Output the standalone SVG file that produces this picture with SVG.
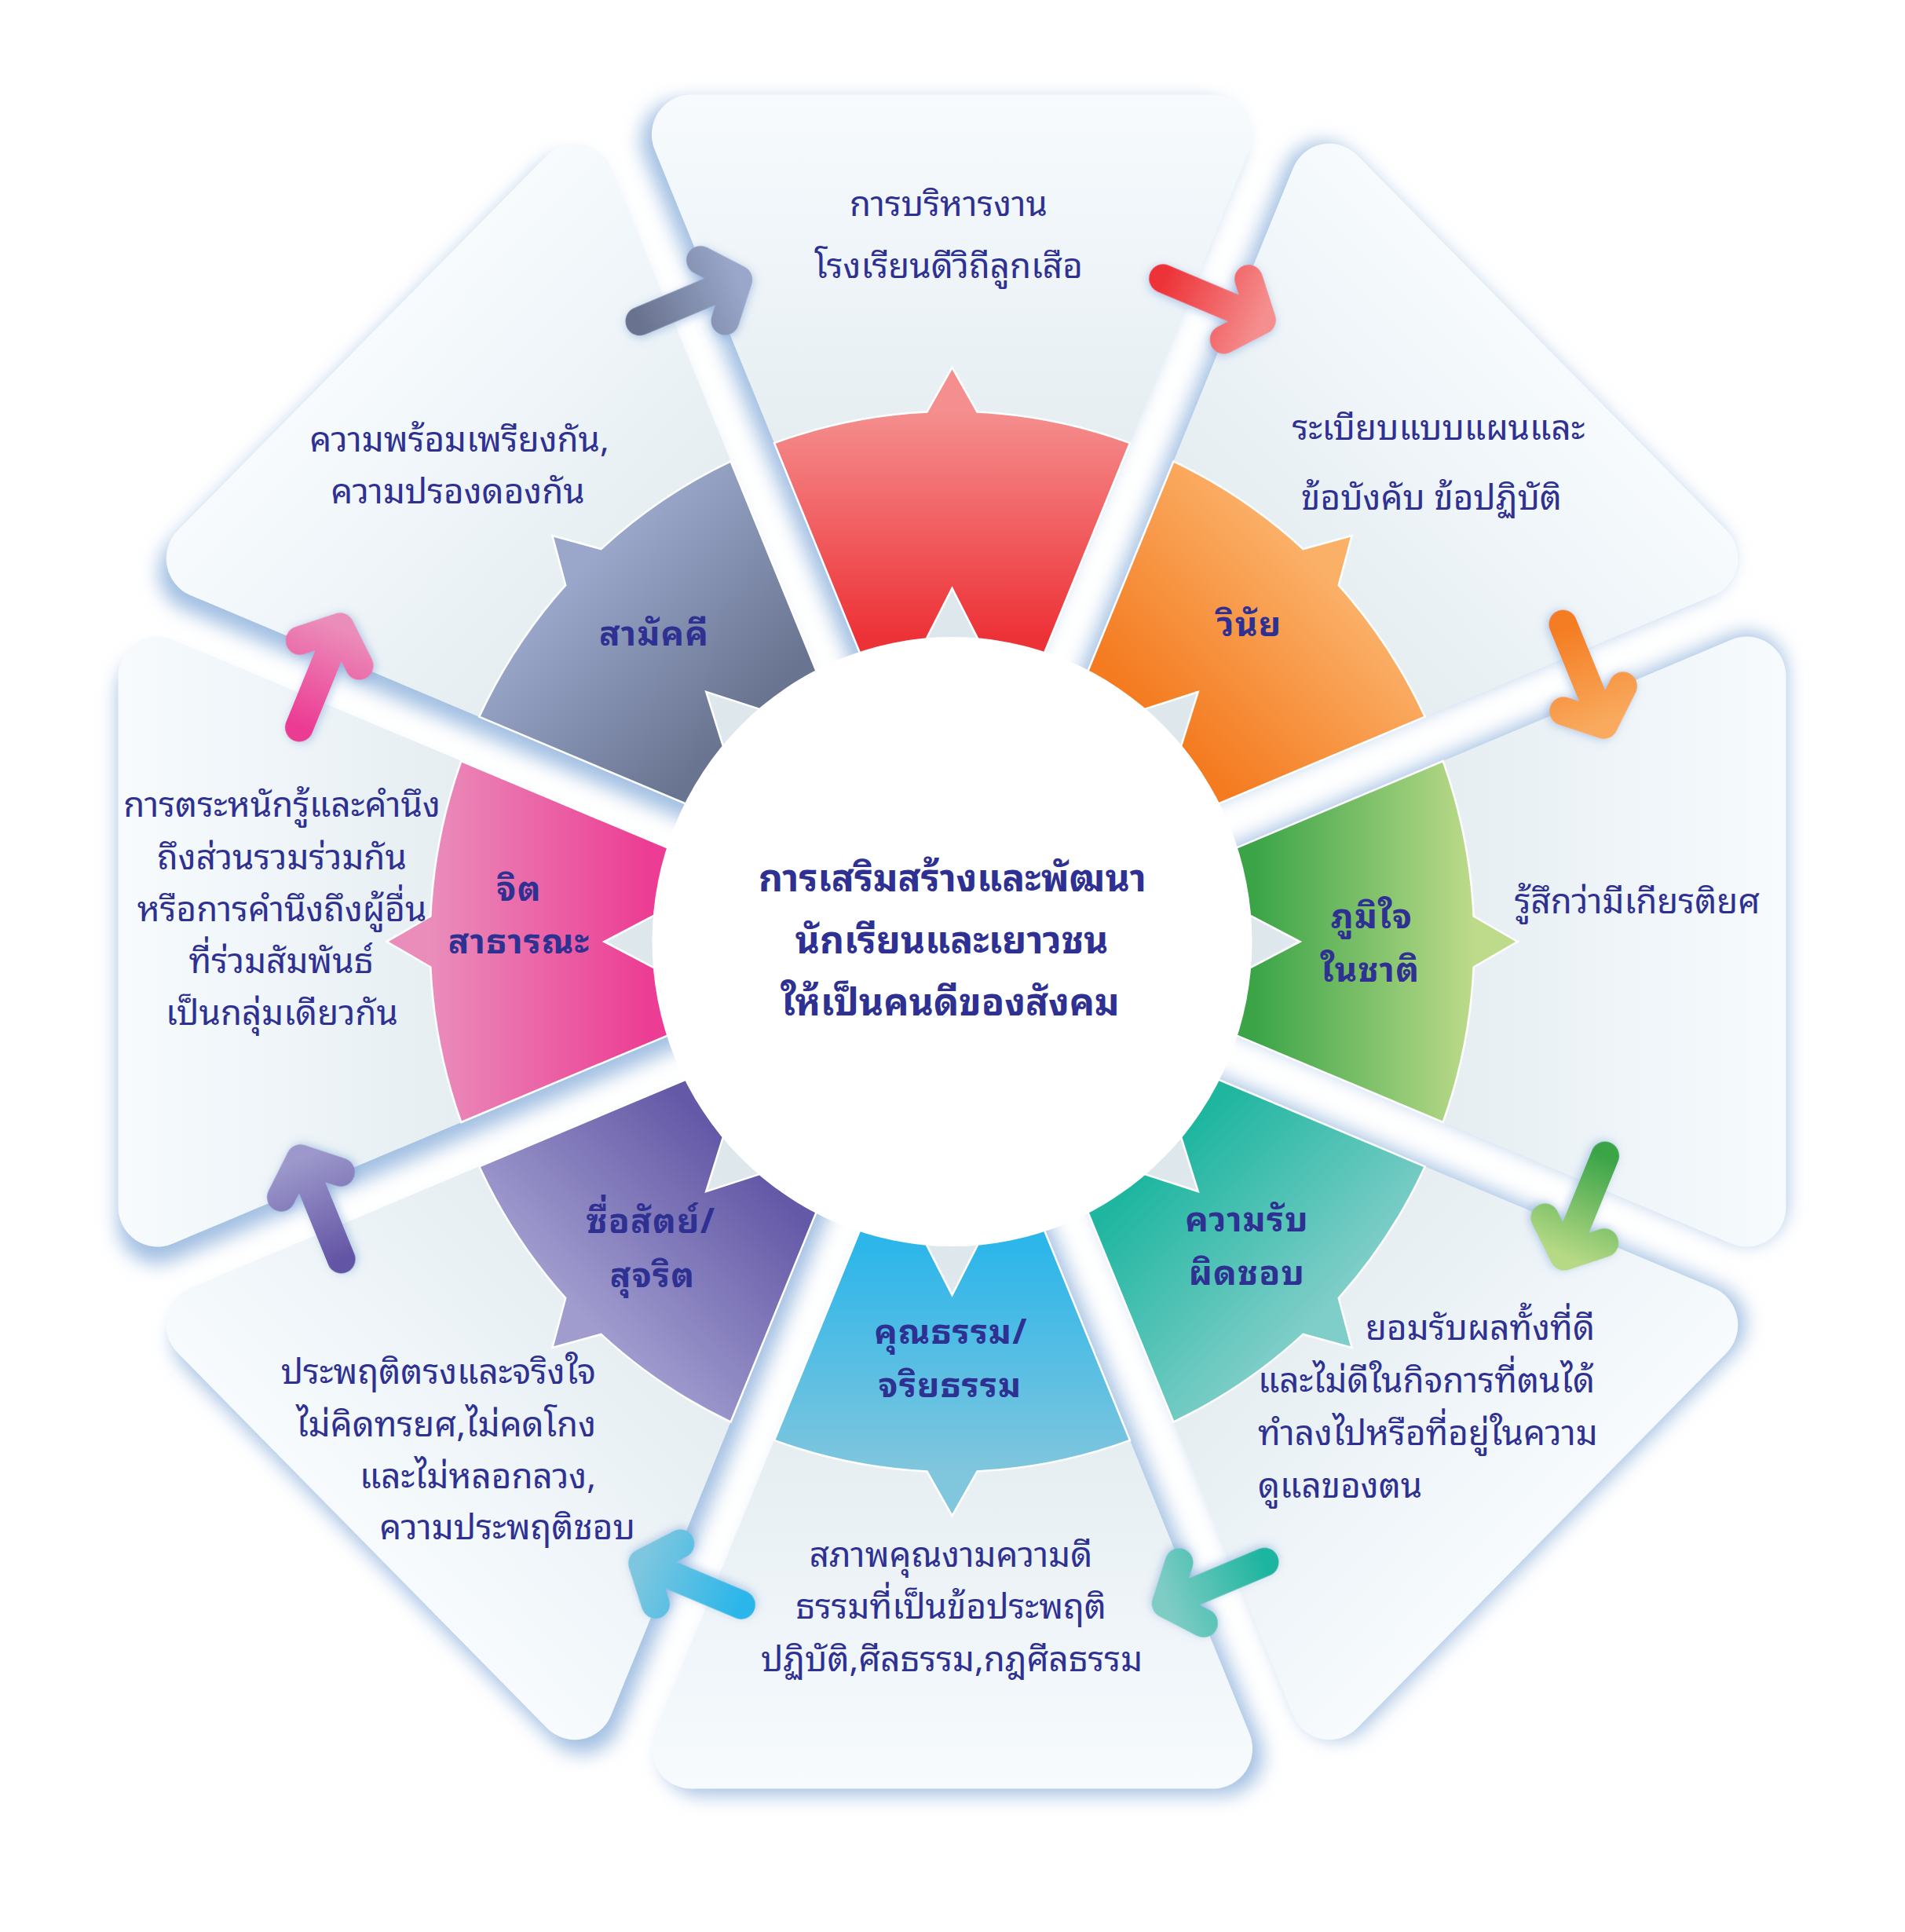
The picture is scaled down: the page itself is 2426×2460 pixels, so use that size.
<svg xmlns="http://www.w3.org/2000/svg" xmlns:xlink="http://www.w3.org/1999/xlink" width="2426" height="2460" viewBox="0 0 2426 2460">
<defs>
<style>
.t{font-family:"Noto Sans Thai Looped","Noto Sans Thai","Noto Sans","DejaVu Sans",sans-serif;fill:#2e3192;}
.d{font-size:44px;font-weight:400;text-anchor:middle;}
.l{font-size:44px;font-weight:700;text-anchor:middle;letter-spacing:1.2px;}
.c{font-size:48px;font-weight:700;text-anchor:middle;}
.arr{fill:none;stroke-width:36;stroke-linecap:round;stroke-linejoin:round;filter:url(#arrowShadow);}
.seg{stroke:#ffffff;stroke-width:2.5;}
</style>
<linearGradient id="panelGrad" gradientUnits="userSpaceOnUse" x1="0" y1="-1062" x2="0" y2="-400">
<stop offset="0" stop-color="#f7fbfe"/><stop offset="1" stop-color="#dde7ec"/>
</linearGradient>
<linearGradient id="gRed" gradientUnits="userSpaceOnUse" x1="0" y1="-382" x2="0" y2="-665"><stop offset="0" stop-color="#ed3237"/><stop offset="1" stop-color="#f58e8e"/></linearGradient>
<linearGradient id="gOrange" gradientUnits="userSpaceOnUse" x1="0" y1="-382" x2="0" y2="-665"><stop offset="0" stop-color="#f47b20"/><stop offset="1" stop-color="#fbb068"/></linearGradient>
<linearGradient id="gGreen" gradientUnits="userSpaceOnUse" x1="0" y1="-382" x2="0" y2="-665"><stop offset="0" stop-color="#3aa447"/><stop offset="1" stop-color="#bddb8a"/></linearGradient>
<linearGradient id="gTeal" gradientUnits="userSpaceOnUse" x1="0" y1="-382" x2="0" y2="-665"><stop offset="0" stop-color="#1fb6a0"/><stop offset="1" stop-color="#80cec9"/></linearGradient>
<linearGradient id="gBlue" gradientUnits="userSpaceOnUse" x1="0" y1="-382" x2="0" y2="-665"><stop offset="0" stop-color="#2db6ea"/><stop offset="1" stop-color="#80c6dd"/></linearGradient>
<linearGradient id="gPurple" gradientUnits="userSpaceOnUse" x1="0" y1="-382" x2="0" y2="-665"><stop offset="0" stop-color="#6459a7"/><stop offset="1" stop-color="#a09cce"/></linearGradient>
<linearGradient id="gPink" gradientUnits="userSpaceOnUse" x1="0" y1="-382" x2="0" y2="-665"><stop offset="0" stop-color="#ec3c93"/><stop offset="1" stop-color="#ea8dbb"/></linearGradient>
<linearGradient id="gGray" gradientUnits="userSpaceOnUse" x1="0" y1="-382" x2="0" y2="-665"><stop offset="0" stop-color="#697490"/><stop offset="1" stop-color="#9aa7ca"/></linearGradient>
<linearGradient id="aGray" gradientUnits="userSpaceOnUse" x1="-70" y1="0" x2="66" y2="0"><stop offset="0" stop-color="#69738f"/><stop offset="1" stop-color="#9aa7ca"/></linearGradient>
<linearGradient id="aRed" gradientUnits="userSpaceOnUse" x1="-70" y1="0" x2="66" y2="0"><stop offset="0" stop-color="#ed3237"/><stop offset="1" stop-color="#f58e8e"/></linearGradient>
<linearGradient id="aOrange" gradientUnits="userSpaceOnUse" x1="-70" y1="0" x2="66" y2="0"><stop offset="0" stop-color="#f47b20"/><stop offset="1" stop-color="#f9aa5e"/></linearGradient>
<linearGradient id="aGreen" gradientUnits="userSpaceOnUse" x1="-70" y1="0" x2="66" y2="0"><stop offset="0" stop-color="#3aa447"/><stop offset="1" stop-color="#b6d985"/></linearGradient>
<linearGradient id="aTeal" gradientUnits="userSpaceOnUse" x1="-70" y1="0" x2="66" y2="0"><stop offset="0" stop-color="#1db59f"/><stop offset="1" stop-color="#7fccc5"/></linearGradient>
<linearGradient id="aBlue" gradientUnits="userSpaceOnUse" x1="-70" y1="0" x2="66" y2="0"><stop offset="0" stop-color="#2ab6ea"/><stop offset="1" stop-color="#7cc6df"/></linearGradient>
<linearGradient id="aPurple" gradientUnits="userSpaceOnUse" x1="-70" y1="0" x2="66" y2="0"><stop offset="0" stop-color="#6455a5"/><stop offset="1" stop-color="#9c98cb"/></linearGradient>
<linearGradient id="aPink" gradientUnits="userSpaceOnUse" x1="-70" y1="0" x2="66" y2="0"><stop offset="0" stop-color="#ec3a93"/><stop offset="1" stop-color="#eb8dba"/></linearGradient>
<filter id="shadowBlur" x="-10%" y="-10%" width="120%" height="120%"><feGaussianBlur stdDeviation="12"/></filter>
<filter id="arrowShadow" x="-40%" y="-40%" width="180%" height="180%"><feDropShadow dx="0" dy="3" stdDeviation="6" flood-color="#7fa6d6" flood-opacity="0.55"/></filter>
<path id="panelShape" d="M0,-78 L-378.8,-992.9 A50,50 0 0 1 -332.6,-1062 L332.6,-1062 A50,50 0 0 1 378.8,-992.9 Z"/>
<path id="segShape" d="M-109.6,-342.9 L-226.5,-625.2 A665,665 0 0 1 -32,-664.2 L0,-720 L32,-664.2 A665,665 0 0 1 226.5,-625.2 L109.6,-342.9 L44,-358 L0,-443 L-44,-358 Z"/>
<path id="arrowShape" d="M-70,-871 L66,-871 M31,-912 L66,-871 L31,-830"/>
</defs>
<rect x="0" y="0" width="2426" height="2460" fill="#ffffff"/>

<g id="panel-shadows" transform="translate(1212.5,1207) scale(1,1.0155)">
<g filter="url(#shadowBlur)" fill="#a2bfe2">
<use xlink:href="#panelShape" transform="rotate(0) translate(-13,0)"/>
<use xlink:href="#panelShape" transform="rotate(45) translate(-13,0)"/>
<use xlink:href="#panelShape" transform="rotate(90) translate(-13,0)"/>
<use xlink:href="#panelShape" transform="rotate(135) translate(-13,0)"/>
<use xlink:href="#panelShape" transform="rotate(180) translate(-13,0)"/>
<use xlink:href="#panelShape" transform="rotate(225) translate(-13,0)"/>
<use xlink:href="#panelShape" transform="rotate(270) translate(-13,0)"/>
<use xlink:href="#panelShape" transform="rotate(315) translate(-13,0)"/>
</g>
</g>

<g id="node-top">
<g transform="translate(1212.5,1199) scale(1,1.0155) rotate(0)">
<use xlink:href="#panelShape" fill="url(#panelGrad)"/>
<use xlink:href="#segShape" class="seg" fill="url(#gRed)"/>
</g>
<text class="t d" x="1208" y="275">การบริหารงาน</text>
<text class="t d" x="1208" y="354">โรงเรียนดีวิถีลูกเสือ</text>
</g>

<g id="node-discipline">
<g transform="translate(1212.5,1199) scale(1,1.0155) rotate(45)">
<use xlink:href="#panelShape" fill="url(#panelGrad)"/>
<use xlink:href="#segShape" class="seg" fill="url(#gOrange)"/>
</g>
<text class="t l" x="1591" y="810">วินัย</text>
<text class="t d" x="1832" y="560">ระเบียบแบบแผนและ</text>
<text class="t d" x="1823" y="649">ข้อบังคับ ข้อปฏิบัติ</text>
</g>

<g id="node-pride">
<g transform="translate(1212.5,1199) scale(1,1.0155) rotate(90)">
<use xlink:href="#panelShape" fill="url(#panelGrad)"/>
<use xlink:href="#segShape" class="seg" fill="url(#gGreen)"/>
</g>
<text class="t l" x="1747" y="1182">ภูมิใจ</text>
<text class="t l" x="1745" y="1250">ในชาติ</text>
<text class="t d" x="2085" y="1163">รู้สึกว่ามีเกียรติยศ</text>
</g>

<g id="node-responsibility">
<g transform="translate(1212.5,1199) scale(1,1.0155) rotate(135)">
<use xlink:href="#panelShape" fill="url(#panelGrad)"/>
<use xlink:href="#segShape" class="seg" fill="url(#gTeal)"/>
</g>
<text class="t l" x="1588" y="1568">ความรับ</text>
<text class="t l" x="1588" y="1636">ผิดชอบ</text>
<text class="t d" x="2031" y="1706" style="text-anchor:end">ยอมรับผลทั้งที่ดี</text>
<text class="t d" x="1602" y="1773" style="text-anchor:start">และไม่ดีในกิจการที่ตนได้</text>
<text class="t d" x="1602" y="1840" style="text-anchor:start">ทำลงไปหรือที่อยู่ในความ</text>
<text class="t d" x="1602" y="1907" style="text-anchor:start">ดูแลของตน</text>
</g>

<g id="node-morality">
<g transform="translate(1212.5,1199) scale(1,1.0155) rotate(180)">
<use xlink:href="#panelShape" fill="url(#panelGrad)"/>
<use xlink:href="#segShape" class="seg" fill="url(#gBlue)"/>
</g>
<text class="t l" x="1211" y="1711">คุณธรรม/</text>
<text class="t l" x="1210" y="1779">จริยธรรม</text>
<text class="t d" x="1211" y="1995">สภาพคุณงามความดี</text>
<text class="t d" x="1211" y="2061">ธรรมที่เป็นข้อประพฤติ</text>
<text class="t d" x="1212" y="2128">ปฏิบัติ,ศีลธรรม,กฎศีลธรรม</text>
</g>

<g id="node-honesty">
<g transform="translate(1212.5,1199) scale(1,1.0155) rotate(225)">
<use xlink:href="#panelShape" fill="url(#panelGrad)"/>
<use xlink:href="#segShape" class="seg" fill="url(#gPurple)"/>
</g>
<text class="t l" x="829" y="1570">ซื่อสัตย์/</text>
<text class="t l" x="831" y="1639">สุจริต</text>
<text class="t d" x="759" y="1762" style="text-anchor:end">ประพฤติตรงและจริงใจ</text>
<text class="t d" x="759" y="1829" style="text-anchor:end">ไม่คิดทรยศ,ไม่คดโกง</text>
<text class="t d" x="759" y="1895" style="text-anchor:end">และไม่หลอกลวง,</text>
<text class="t d" x="809" y="1960" style="text-anchor:end">ความประพฤติชอบ</text>
</g>

<g id="node-publicmind">
<g transform="translate(1212.5,1199) scale(1,1.0155) rotate(270)">
<use xlink:href="#panelShape" fill="url(#panelGrad)"/>
<use xlink:href="#segShape" class="seg" fill="url(#gPink)"/>
</g>
<text class="t l" x="661" y="1147">จิต</text>
<text class="t l" x="661" y="1214">สาธารณะ</text>
<text class="t d" x="359" y="1040">การตระหนักรู้และคำนึง</text>
<text class="t d" x="359" y="1107">ถึงส่วนรวมร่วมกัน</text>
<text class="t d" x="359" y="1173">หรือการคำนึงถึงผู้อื่น</text>
<text class="t d" x="358" y="1239">ที่ร่วมสัมพันธ์</text>
<text class="t d" x="359" y="1305">เป็นกลุ่มเดียวกัน</text>
</g>

<g id="node-unity">
<g transform="translate(1212.5,1199) scale(1,1.0155) rotate(315)">
<use xlink:href="#panelShape" fill="url(#panelGrad)"/>
<use xlink:href="#segShape" class="seg" fill="url(#gGray)"/>
</g>
<text class="t l" x="833" y="822">สามัคคี</text>
<text class="t d" x="585" y="575">ความพร้อมเพรียงกัน,</text>
<text class="t d" x="583" y="641">ความปรองดองกัน</text>
</g>

<g id="node-center">
<ellipse cx="1212.5" cy="1199" rx="382" ry="388" fill="#ffffff"/>
<text class="t c" x="1213" y="1135">การเสริมสร้างและพัฒนา</text>
<text class="t c" x="1212" y="1214">นักเรียนและเยาวชน</text>
<text class="t c" x="1210" y="1293">ให้เป็นคนดีของสังคม</text>
</g>

<g id="connectors" transform="translate(1212.5,1199) scale(1,1.0155)">
<use xlink:href="#arrowShape" class="arr" stroke="url(#aGray)" transform="rotate(-22.5)"/>
<use xlink:href="#arrowShape" class="arr" stroke="url(#aRed)" transform="rotate(22.5)"/>
<use xlink:href="#arrowShape" class="arr" stroke="url(#aOrange)" transform="rotate(67.5)"/>
<use xlink:href="#arrowShape" class="arr" stroke="url(#aGreen)" transform="rotate(112.5)"/>
<use xlink:href="#arrowShape" class="arr" stroke="url(#aTeal)" transform="rotate(157.5)"/>
<use xlink:href="#arrowShape" class="arr" stroke="url(#aBlue)" transform="rotate(202.5)"/>
<use xlink:href="#arrowShape" class="arr" stroke="url(#aPurple)" transform="rotate(247.5)"/>
<use xlink:href="#arrowShape" class="arr" stroke="url(#aPink)" transform="rotate(292.5)"/>
</g>
</svg>
